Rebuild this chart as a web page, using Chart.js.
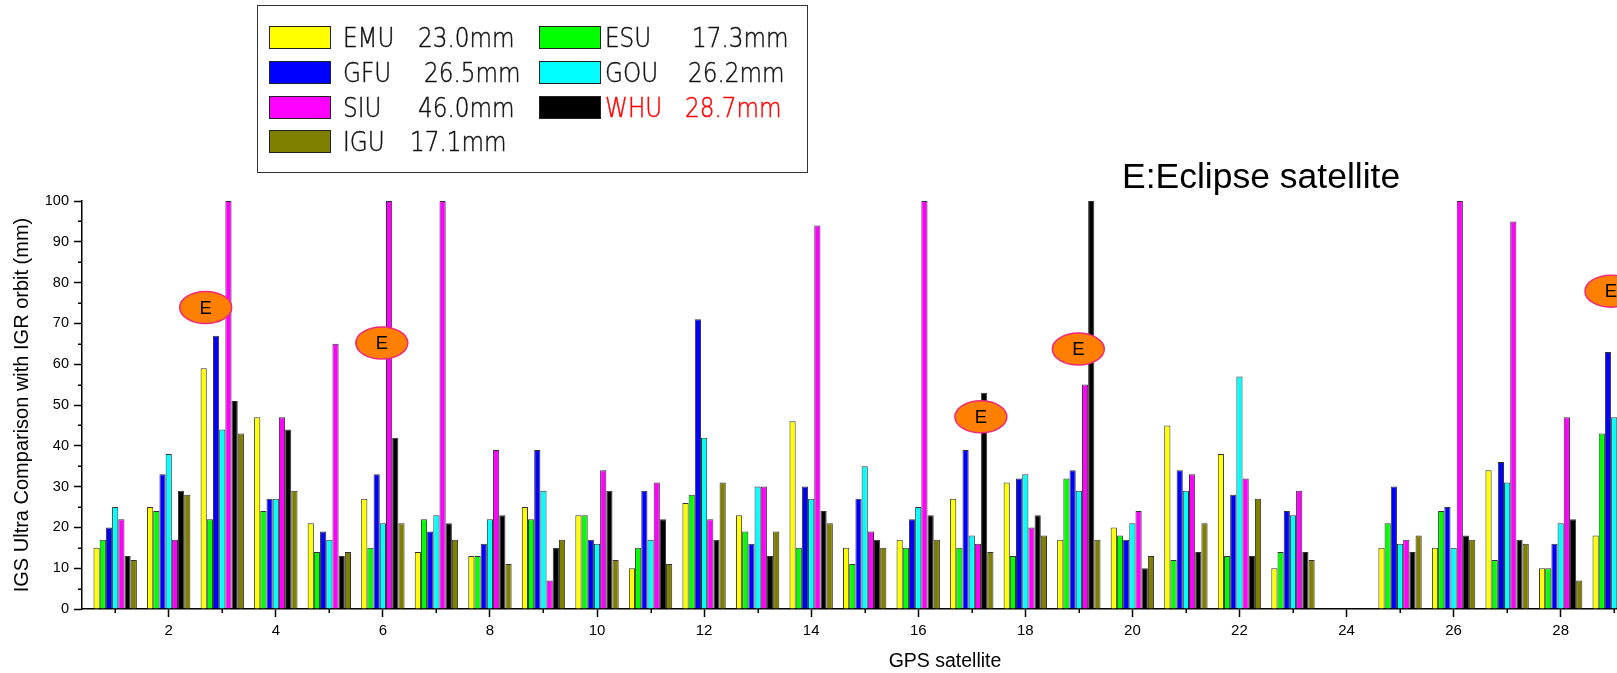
<!DOCTYPE html>
<html>
<head>
<meta charset="utf-8">
<script src="https://cdn.jsdelivr.net/npm/chart.js@4/dist/chart.umd.min.js"></script>
<style>
html,body{margin:0;padding:0;background:#fff;overflow:hidden;}
#wrap{position:relative;width:1617px;height:673px;overflow:hidden;background:#fff;}
#c{position:absolute;left:0;top:0;}
#legend{position:absolute;left:257px;top:5px;width:551px;height:168px;border:1.5px solid #333;box-sizing:border-box;font-family:'DejaVu Sans',sans-serif;font-weight:200;font-size:26px;color:#111;}
.sw{position:absolute;width:62px;height:23px;border:1.5px solid #222;box-sizing:border-box;}
.tx{position:absolute;line-height:1;white-space:pre;transform:scaleX(0.89);transform-origin:0 50%;-webkit-text-stroke:0.45px currentColor;}
#note{position:absolute;left:1122px;top:159px;font-family:'Liberation Sans',Arial,sans-serif;font-size:35.5px;line-height:1;color:#000;white-space:pre;}
</style>
</head>
<body>
<div id="wrap">
  <canvas id="c" width="1808" height="673" style="width:1808px;height:673px"></canvas>
  <div id="legend"></div>
  <div id="note"></div>
</div>
<script>
// ---------------- data ----------------
const satellites = [1,2,3,4,5,6,7,8,9,10,11,12,13,14,15,16,17,18,19,20,21,22,23,24,25,26,27,28,29];
const seriesNames = ['EMU','ESU','GFU','GOU','SIU','WHU','IGU'];
const rmsLabels = ['23.0mm','17.3mm','26.5mm','26.2mm','46.0mm','28.7mm','17.1mm'];
const EMU = [15,25,59,47,21,27,14,13,25,23,10,26,23,46,15,17,27,31,17,20,45,38,10,null,15,15,34,10,18];
const ESU = [17,24,22,24,14,15,22,13,22,23,15,28,19,15,11,15,15,13,32,18,12,13,14,null,21,24,12,10,43];
const GFU = [20,33,67,27,19,33,19,16,39,17,29,71,16,30,27,22,39,32,34,17,34,28,24,null,30,25,36,16,63];
const GOU = [25,38,44,27,17,21,23,22,29,16,17,42,30,27,35,25,18,33,29,21,29,57,23,null,16,15,31,21,47];
const SIU = [22,17,100,47,65,100,100,39,7,34,31,22,30,94,19,100,16,20,55,24,33,32,29,null,17,100,95,47,66];
const WHU = [13,29,51,44,13,42,21,23,15,29,22,17,13,24,17,23,53,23,100,10,14,13,14,null,14,18,17,22,null];
const IGU = [12,28,43,29,14,21,17,11,17,12,11,31,19,21,15,17,14,18,17,13,21,27,12,null,18,17,16,7,null];
const yTicks = [0,10,20,30,40,50,60,70,80,90,100];
const xTickLabels = [2,4,6,8,10,12,14,16,18,20,22,24,26,28,30,32];
// eclipse markers: satellite position and height (mm) of the "E" label
const eclipseSat = [2.69, 5.98, 17.17, 18.99, 28.94];
const eclipseVal = [73.9, 65.2, 47.1, 63.7, 77.9];
const noteText = 'E:Eclipse satellite';

// ---------------- styles ----------------
const colors = ['#FFFF00','#00FF00','#0000FF','#00FFFF','#FF00FF','#000000','#808000'];
const legendTextColors = ['#111','#111','#111','#111','#111','#FF0000','#111'];
const seriesData = [EMU,ESU,GFU,GOU,SIU,WHU,IGU];

// ---------------- legend (HTML) ----------------
const legendValueX = [160, 434, 166, 430, 160, 427, 152];
const legend = document.getElementById('legend');
seriesNames.forEach((name,i)=>{
  const col = i % 2, row = Math.floor(i/2);
  const top = 20 + row*34.8;
  const sw = document.createElement('div');
  sw.className='sw';
  sw.style.left = (col ? 281 : 11) + 'px';
  sw.style.top = top + 'px';
  sw.style.background = colors[i];
  legend.appendChild(sw);
  const t1 = document.createElement('div');
  t1.className='tx'; t1.textContent = name;
  t1.style.left = (col ? 347 : 85) + 'px';
  t1.style.top = (top - 1) + 'px';
  t1.style.color = legendTextColors[i];
  legend.appendChild(t1);
  const t2 = document.createElement('div');
  t2.className='tx'; t2.textContent = rmsLabels[i];
  t2.style.left = legendValueX[i] + 'px';
  t2.style.top = (top - 1) + 'px';
  t2.style.color = legendTextColors[i];
  legend.appendChild(t2);
});
document.getElementById('note').textContent = noteText;

// ---------------- chart ----------------
Chart.defaults.font.family = "'Liberation Sans', Arial, sans-serif";
Chart.defaults.color = '#000';

const marksPlugin = {
  id:'marks',
  afterDraw(chart){
    const {ctx, chartArea} = chart;
    const xs = chart.scales.x, ys = chart.scales.y;
    ctx.save();
    // minor ticks
    ctx.strokeStyle = '#000';
    ctx.lineWidth = 1.5;
    ctx.beginPath();
    satellites.filter(s => s % 2 === 1).concat([31]).forEach(v=>{
      const px = Math.round(xs.getPixelForValue(v)) + 0.25;
      ctx.moveTo(px, chartArea.bottom);
      ctx.lineTo(px, chartArea.bottom + 4);
    });
    yTicks.slice(0,-1).forEach(v=>{
      const py = Math.round(ys.getPixelForValue(v + 5)) + 0.25;
      ctx.moveTo(chartArea.left - 4, py);
      ctx.lineTo(chartArea.left, py);
    });
    ctx.stroke();
    // eclipse markers
    eclipseSat.forEach((s,i)=>{
      const cx = xs.getPixelForValue(s), cy = ys.getPixelForValue(eclipseVal[i]);
      ctx.beginPath();
      ctx.ellipse(cx, cy, 26, 16, 0, 0, Math.PI*2);
      ctx.fillStyle = '#FF8000';
      ctx.fill();
      ctx.lineWidth = 1.5;
      ctx.strokeStyle = '#F0287A';
      ctx.stroke();
      ctx.fillStyle = '#000';
      ctx.font = "18.5px 'Liberation Sans', Arial, sans-serif";
      ctx.textAlign = 'center';
      ctx.textBaseline = 'middle';
      ctx.fillText('E', cx, cy + 1);
    });
    ctx.restore();
  }
};

new Chart(document.getElementById('c'), {
  type:'bar',
  data:{
    labels: satellites,
    datasets: seriesNames.map((n,i)=>({
      label:n,
      data:seriesData[i],
      backgroundColor:colors[i],
      borderColor:'rgba(0,0,0,0.8)',
      borderWidth:1
    }))
  },
  options:{
    responsive:false,
    animation:false,
    layout:{padding:{top:201,left:0,right:0,bottom:0}},
    plugins:{legend:{display:false},tooltip:{enabled:false}},
    datasets:{bar:{categoryPercentage:0.81,barPercentage:1,clip:0}},
    scales:{
      x:{
        type:'linear', min:0.38, max:32.62, offset:false,
        grid:{display:true,drawOnChartArea:false,drawTicks:true,tickLength:8,tickColor:'#000',tickWidth:1.5,offset:false},
        border:{display:true,color:'#000',width:1.5},
        ticks:{stepSize:2,includeBounds:false,autoSkip:false,maxRotation:0,minRotation:0,color:'#000',font:{size:15},padding:5,
               callback:(v)=> xTickLabels.includes(v) ? String(v) : ''},
        title:{display:true,text:'GPS satellite',font:{size:19.5},color:'#000',padding:{top:0,bottom:0}},
        afterFit:(s)=>{ s.height = 64; }
      },
      y:{
        min:0,max:100,
        grid:{display:true,drawOnChartArea:false,drawTicks:true,tickLength:8,tickColor:'#000',tickWidth:1.5},
        border:{display:true,color:'#000',width:1.5},
        ticks:{stepSize:10,color:'#000',font:{size:14.5},padding:5,
               callback:(v)=> yTicks.includes(v) ? String(v) : ''},
        title:{display:true,text:'IGS Ultra Comparison with IGR orbit (mm)',font:{size:20},color:'#000',padding:{top:10,bottom:0}},
        afterFit:(s)=>{ s.width = 82; }
      }
    }
  },
  plugins:[marksPlugin]
});
</script>
</body>
</html>
